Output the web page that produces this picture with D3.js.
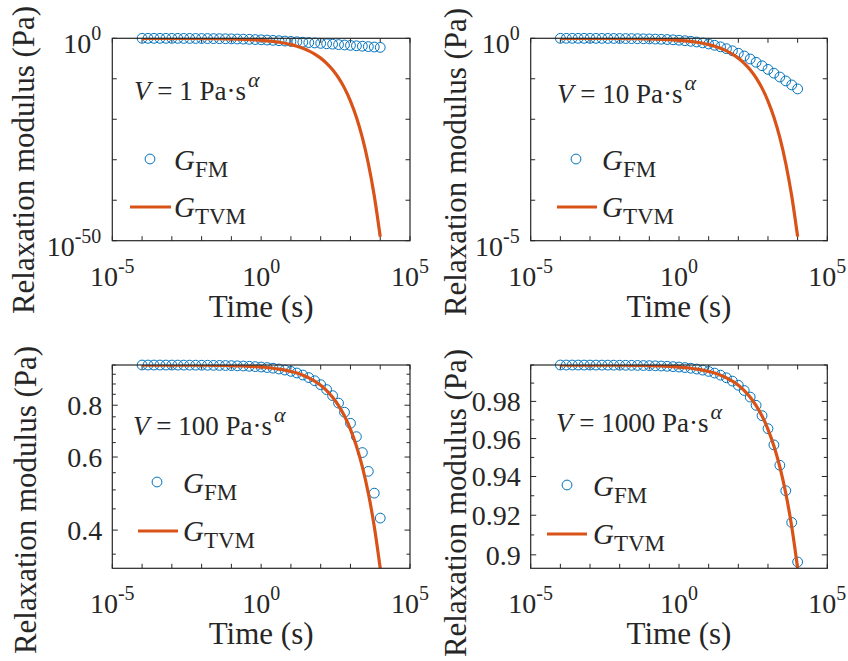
<!DOCTYPE html>
<html>
<head>
<meta charset="utf-8">
<script src="https://cdn.jsdelivr.net/npm/d3@7"></script>
<style>
  body { margin: 0; background: #fff; }
  svg { display: block; font-family: "Liberation Serif", "Times New Roman", serif; }
  text { fill: #262626; }
</style>
</head>
<body>
<div id="chart"></div>
<script>
// time points (s), same for every panel
var timeS = [1e-4, 1.585e-4, 2.512e-4, 3.981e-4, 6.310e-4,
  1e-3, 1.585e-3, 2.512e-3, 3.981e-3, 6.310e-3,
  1e-2, 1.585e-2, 2.512e-2, 3.981e-2, 6.310e-2,
  0.1, 0.1585, 0.2512, 0.3981, 0.6310,
  1, 1.585, 2.512, 3.981, 6.310,
  10, 15.85, 25.12, 39.81, 63.10,
  100, 158.5, 251.2, 398.1, 631.0,
  1000, 1585, 2512, 3981, 6310,
  10000];

var viscosity = [1, 10, 100, 1000];

// V = 1
var gFM1 = [0.9888, 0.9860, 0.9824, 0.9779, 0.9723, 0.9653, 0.9566, 0.9459, 0.9326, 0.9163,
  0.8965, 0.8724, 0.8436, 0.8094, 0.7695, 0.7236, 0.6719, 0.6151, 0.5542, 0.4911,
  0.4276, 0.3660, 0.3082, 0.2559, 0.2099, 0.1706, 0.1376, 0.1105, 0.08834, 0.07048,
  0.05614, 0.04468, 0.03553, 0.02824, 0.02244, 0.01783, 0.01417, 0.01126, 0.008941, 0.007102,
  0.005642];
var gTVM1 = [0.9888, 0.9859, 0.9823, 0.9777, 0.9721, 0.9649, 0.9561, 0.9450, 0.9313, 0.9143,
  0.8933, 0.8676, 0.8362, 0.7984, 0.7532, 0.6999, 0.6381, 0.5681, 0.4907, 0.4081,
  0.3236, 0.2416, 0.1673, 0.1053, 0.05874, 0.02820, 0.01120, 3.50e-3, 8.09e-4, 1.28e-4,
  1.26e-5, 6.77e-7, 1.71e-8, 1.67e-10, 4.90e-13, 3.18e-16, 3.09e-20, 2.75e-25, 1.20e-31, 1.18e-39,
  9.86e-50];

// V = 10
var gFM10 = [0.99887, 0.99858, 0.99821, 0.99775, 0.99717, 0.99644, 0.99552, 0.99437, 0.99292, 0.99110,
  0.9888, 0.9860, 0.9824, 0.9779, 0.9723, 0.9653, 0.9566, 0.9459, 0.9326, 0.9163,
  0.8965, 0.8724, 0.8436, 0.8094, 0.7695, 0.7236, 0.6719, 0.6151, 0.5542, 0.4911,
  0.4276, 0.3660, 0.3082, 0.2559, 0.2099, 0.1706, 0.1376, 0.1105, 0.08834, 0.07048,
  0.05614];
var gTVM10 = [0.99887, 0.99858, 0.99821, 0.99775, 0.99717, 0.99644, 0.99552, 0.99436, 0.99291, 0.99108,
  0.9888, 0.9859, 0.9823, 0.9777, 0.9721, 0.9649, 0.9561, 0.9450, 0.9313, 0.9143,
  0.8933, 0.8676, 0.8362, 0.7984, 0.7532, 0.6999, 0.6381, 0.5681, 0.4907, 0.4081,
  0.3236, 0.2416, 0.1673, 0.1053, 0.05874, 0.02820, 0.01120, 3.50e-3, 8.09e-4, 1.28e-4,
  1.26e-5];

// V = 100
var gFM100 = [0.999887, 0.999858, 0.999821, 0.999775, 0.999717, 0.999643, 0.999551, 0.999435, 0.999288, 0.999104,
  0.998873, 0.998581, 0.998214, 0.997752, 0.997172, 0.996442, 0.995524, 0.994370, 0.992920, 0.991100,
  0.9888, 0.9860, 0.9824, 0.9779, 0.9723, 0.9653, 0.9566, 0.9459, 0.9326, 0.9163,
  0.8965, 0.8724, 0.8436, 0.8094, 0.7695, 0.7236, 0.6719, 0.6151, 0.5542, 0.4911,
  0.4276];
var gTVM100 = [0.999887, 0.999858, 0.999821, 0.999775, 0.999717, 0.999643, 0.999551, 0.999435, 0.999288, 0.999104,
  0.998872, 0.998581, 0.998213, 0.997751, 0.997169, 0.996438, 0.995518, 0.994361, 0.992906, 0.991077,
  0.9888, 0.9859, 0.9823, 0.9777, 0.9721, 0.9649, 0.9561, 0.9450, 0.9313, 0.9143,
  0.8933, 0.8676, 0.8362, 0.7984, 0.7532, 0.6999, 0.6381, 0.5681, 0.4907, 0.4081,
  0.3236];

// V = 1000
var gFM1000 = [0.999989, 0.999986, 0.999982, 0.999977, 0.999972, 0.999964, 0.999955, 0.999943, 0.999929, 0.999910,
  0.999887, 0.999858, 0.999821, 0.999775, 0.999717, 0.999643, 0.999551, 0.999435, 0.999288, 0.999104,
  0.998873, 0.998581, 0.998214, 0.997752, 0.997172, 0.996442, 0.995524, 0.994370, 0.992920, 0.991100,
  0.98882, 0.98595, 0.98236, 0.97788, 0.97228, 0.96529, 0.95662, 0.94587, 0.93260, 0.91632,
  0.89646];
var gTVM1000 = [0.999989, 0.999986, 0.999982, 0.999977, 0.999972, 0.999964, 0.999955, 0.999943, 0.999929, 0.999910,
  0.999887, 0.999858, 0.999821, 0.999775, 0.999717, 0.999643, 0.999551, 0.999435, 0.999288, 0.999104,
  0.998872, 0.998581, 0.998213, 0.997751, 0.997169, 0.996438, 0.995518, 0.994361, 0.992906, 0.991077,
  0.98878, 0.98590, 0.98228, 0.97774, 0.97205, 0.96494, 0.95607, 0.94502, 0.93127, 0.91426,
  0.89329];

var fmSeries = [gFM1, gFM10, gFM100, gFM1000];
var tvmSeries = [gTVM1, gTVM10, gTVM100, gTVM1000];

// axis limits and ticks
var xLimits = [1e-5, 1e5];
var xTicks = [1e-5, 1e-4, 1e-3, 1e-2, 1e-1, 1, 1e1, 1e2, 1e3, 1e4, 1e5];
var xLabelTicks = [1e-5, 1, 1e5];
var xLabelExp = ["-5", "0", "5"];

var yLimits = [[1e-50, 1], [1e-5, 1], [0.3236, 1], [0.8933, 1]];
var yTicks = [
  [1e-50, 1e-40, 1e-30, 1e-20, 1e-10, 1],
  [1e-5, 1e-4, 1e-3, 1e-2, 1e-1, 1],
  [0.35, 0.4, 0.45, 0.5, 0.55, 0.6, 0.65, 0.7, 0.75, 0.8, 0.85, 0.9, 0.95, 1],
  [0.9, 0.91, 0.92, 0.93, 0.94, 0.95, 0.96, 0.97, 0.98, 0.99, 1]
];
var yLabelTicks = [[1, 1e-50], [1, 1e-5], [0.4, 0.6, 0.8], [0.9, 0.92, 0.94, 0.96, 0.98]];
var yLabelText = [["0", "-50"], ["0", "-5"], ["0.4", "0.6", "0.8"], ["0.9", "0.92", "0.94", "0.96", "0.98"]];
var yLabelIsPower = [true, true, false, false];

// layout of the 2x2 grid
var layout = [
  {x0: 112.3, x1: 410, y0: 38.3, y1: 240.7, ylabX: 34, ylabY: 160, nx: 134, ny: 100,
   cx: 150, cy: 159, lx0: 130, lx1: 171, ly: 207, gx: 174},
  {x0: 530.7, x1: 827.3, y0: 38.3, y1: 240.7, ylabX: 466, ylabY: 162, nx: 557, ny: 103,
   cx: 576, cy: 159, lx0: 557, lx1: 597, ly: 207, gx: 602},
  {x0: 112.3, x1: 410, y0: 365, y1: 568.3, ylabX: 36, ylabY: 500, nx: 133, ny: 435,
   cx: 157, cy: 482, lx0: 138, lx1: 178, ly: 531, gx: 183},
  {x0: 530.7, x1: 827.3, y0: 365, y1: 568.3, ylabX: 466, ylabY: 503, nx: 556, ny: 432,
   cx: 567, cy: 485, lx0: 547, lx1: 587, ly: 534, gx: 593}
];

var blue = "#0072BD";
var orange = "#D95319";
var ink = "#262626";

var svg = d3.select("#chart")
  .append("svg")
  .attr("width", 848)
  .attr("height", 661);

layout.forEach(function(p, i) {
  var x = d3.scaleLog().domain(xLimits).range([p.x0, p.x1]);
  var y = d3.scaleLog().domain(yLimits[i]).range([p.y1, p.y0]);

  var g = svg.append("g");
  var clipId = "clip" + i;
  g.append("clipPath").attr("id", clipId)
    .append("rect")
    .attr("x", p.x0).attr("y", p.y0)
    .attr("width", p.x1 - p.x0).attr("height", p.y1 - p.y0);

  // ticks (inward, mirrored on all four sides)
  var xt = 4.5;
  [[p.y1, -xt], [p.y0, xt]].forEach(function(s) {
    g.selectAll(null).data(xTicks).enter().append("line")
      .attr("x1", function(d) { return x(d); })
      .attr("x2", function(d) { return x(d); })
      .attr("y1", s[0])
      .attr("y2", s[0] + s[1])
      .attr("stroke", ink).attr("stroke-width", 1);
  });
  var labelled = yLabelTicks[i];
  function yLen(d) {
    if (yLabelIsPower[i]) return 4.5;
    return labelled.some(function(v) { return Math.abs(v - d) < 1e-9; }) ? 5.5 : 3.5;
  }
  [[p.x0, 1], [p.x1, -1]].forEach(function(s) {
    g.selectAll(null).data(yTicks[i]).enter().append("line")
      .attr("x1", s[0])
      .attr("x2", function(d) { return s[0] + s[1] * yLen(d); })
      .attr("y1", function(d) { return y(d); })
      .attr("y2", function(d) { return y(d); })
      .attr("stroke", ink).attr("stroke-width", 1);
  });

  // x tick labels 10^n
  xLabelTicks.forEach(function(v, k) {
    var t = g.append("text")
      .attr("x", x(v))
      .attr("y", p.y1 + 45)
      .attr("text-anchor", "middle")
      .attr("font-size", 28)
      .text("10");
    t.append("tspan").attr("dy", -13).attr("font-size", 20).text(xLabelExp[k]);
  });

  // y tick labels
  labelled.forEach(function(v, k) {
    if (yLabelIsPower[i]) {
      var t = g.append("text")
        .attr("x", p.x0 - 11)
        .attr("y", y(v) + 15)
        .attr("text-anchor", "end")
        .attr("font-size", 28)
        .text("10");
      t.append("tspan").attr("dy", -13).attr("font-size", 20).text(yLabelText[i][k]);
    } else {
      g.append("text")
        .attr("x", p.x0 - 10)
        .attr("y", y(v) + 10)
        .attr("text-anchor", "end")
        .attr("font-size", 28)
        .text(yLabelText[i][k]);
    }
  });

  // axis titles
  g.append("text")
    .attr("x", (p.x0 + p.x1) / 2)
    .attr("y", p.y1 + 76)
    .attr("text-anchor", "middle")
    .attr("font-size", 31)
    .text("Time (s)");
  g.append("text")
    .attr("transform", "translate(" + p.ylabX + "," + p.ylabY + ") rotate(-90)")
    .attr("text-anchor", "middle")
    .attr("font-size", 31)
    .text("Relaxation modulus (Pa)");

  // data: markers are not clipped, the line is
  var rows = timeS.map(function(t, k) {
    return {t: t, fm: fmSeries[i][k], tvm: tvmSeries[i][k]};
  });
  g.selectAll("circle.fm").data(rows).enter().append("circle")
    .attr("class", "fm")
    .attr("cx", function(d) { return x(d.t); })
    .attr("cy", function(d) { return y(d.fm); })
    .attr("r", 4.9)
    .attr("fill", "none")
    .attr("stroke", blue)
    .attr("stroke-width", 1);
  var line = d3.line()
    .x(function(d) { return x(d.t); })
    .y(function(d) { return y(d.tvm); })
    .curve(d3.curveMonotoneX);
  g.append("g").attr("clip-path", "url(#" + clipId + ")")
    .append("path")
    .datum(rows)
    .attr("d", line)
    .attr("fill", "none")
    .attr("stroke", orange)
    .attr("stroke-width", 3.2);

  // box
  g.append("rect")
    .attr("x", p.x0).attr("y", p.y0)
    .attr("width", p.x1 - p.x0).attr("height", p.y1 - p.y0)
    .attr("fill", "none").attr("stroke", ink).attr("stroke-width", 1.2);

  // annotation V = ... Pa·s^alpha
  var note = g.append("text")
    .attr("x", p.nx).attr("y", p.ny)
    .attr("font-size", 27);
  note.append("tspan").attr("font-style", "italic").text("V");
  note.append("tspan").text(" = " + viscosity[i] + " Pa\u00b7s");
  note.append("tspan").attr("dx", 2).attr("dy", -13).attr("font-size", 22).attr("font-style", "italic").text("\u03b1");

  // legend
  g.append("circle")
    .attr("cx", p.cx).attr("cy", p.cy).attr("r", 4.9)
    .attr("fill", "none").attr("stroke", blue).attr("stroke-width", 1);
  g.append("line")
    .attr("x1", p.lx0).attr("x2", p.lx1)
    .attr("y1", p.ly).attr("y2", p.ly)
    .attr("stroke", orange).attr("stroke-width", 3.2);
  [["FM", p.cy + 11], ["TVM", p.ly + 10]].forEach(function(e) {
    var t = g.append("text")
      .attr("x", p.gx).attr("y", e[1])
      .attr("font-size", 29)
      .attr("font-style", "italic")
      .text("G");
    t.append("tspan").attr("dy", 7).attr("font-size", 23).attr("font-style", "normal").text(e[0]);
  });
});
</script>
</body>
</html>
